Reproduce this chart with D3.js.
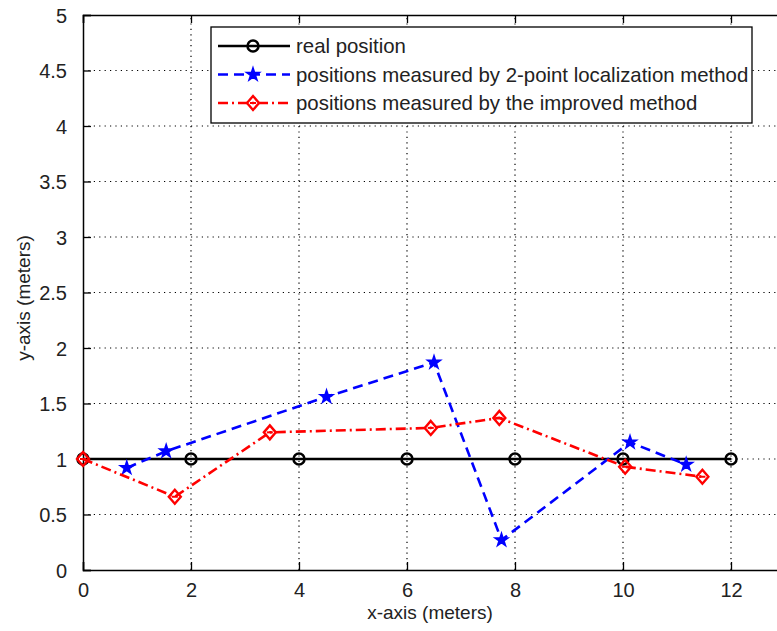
<!DOCTYPE html>
<html>
<head>
<meta charset="utf-8">
<script src="https://cdn.jsdelivr.net/npm/d3@7"></script>
<style>
  body { margin: 0; background: #fff; }
  text { font-family: "Liberation Sans", Arial, sans-serif; fill: #222; }
</style>
</head>
<body>
<div id="chart"></div>
<script>
// data
const realX = [0, 2, 4, 6, 8, 10, 12];
const realY = [1, 1, 1, 1, 1, 1, 1];
const twoPointX = [0.81, 1.54, 4.51, 6.5, 7.75, 10.13, 11.17];
const twoPointY = [0.92, 1.07, 1.56, 1.87, 0.27, 1.15, 0.95];
const improvedX = [0, 1.7, 3.46, 6.44, 7.71, 10.04, 11.47];
const improvedY = [1.0, 0.66, 1.24, 1.28, 1.37, 0.93, 0.84];
const xTicks = [0, 2, 4, 6, 8, 10, 12];
const yTicks = [0, 0.5, 1, 1.5, 2, 2.5, 3, 3.5, 4, 4.5, 5];
const legendLabels = ["real position", "positions measured by 2-point localization method", "positions measured by the improved method"];

function main() {
    const width = 777, height = 631;
    const margin = {top: 15, left: 83, bottom: 61};

    const svg = d3.select("#chart").append("svg")
        .attr("width", width)
        .attr("height", height);

    const xScale = d3.scaleLinear().domain([0, 13]).range([margin.left, margin.left + 13 * 54]);
    const yScale = d3.scaleLinear().domain([0, 5]).range([height - margin.bottom, margin.top]);
    const x0 = xScale(0), y0 = yScale(0), yTop = yScale(5), xRight = xScale(13);

    // dotted grid
    svg.append("g").selectAll("line")
        .data(xTicks.slice(1))
        .enter().append("line")
        .attr("x1", d => xScale(d)).attr("x2", d => xScale(d))
        .attr("y1", y0).attr("y2", yTop)
        .attr("stroke", "#000").attr("stroke-width", 1.2)
        .attr("stroke-dasharray", "1.2,4.2");
    svg.append("g").selectAll("line")
        .data(yTicks.slice(1, -1))
        .enter().append("line")
        .attr("x1", x0).attr("x2", xRight)
        .attr("y1", d => yScale(d)).attr("y2", d => yScale(d))
        .attr("stroke", "#000").attr("stroke-width", 1.2)
        .attr("stroke-dasharray", "1.2,4.2");

    // axes (ticks pointing inward like matlab)
    const xAxis = svg.append("g")
        .attr("transform", `translate(0, ${y0})`)
        .call(d3.axisBottom(xScale).tickValues(xTicks).tickSize(-8).tickPadding(13).tickFormat(d3.format("d")));
    const xAxisTop = svg.append("g")
        .attr("transform", `translate(0, ${yTop})`)
        .call(d3.axisTop(xScale).tickValues(xTicks).tickSize(-8).tickFormat(""));
    const yAxis = svg.append("g")
        .attr("transform", `translate(${x0}, 0)`)
        .call(d3.axisLeft(yScale).tickValues(yTicks).tickSize(-8).tickPadding(16).tickFormat(d3.format("")));
    [xAxis, xAxisTop, yAxis].forEach(function(g) {
        g.select(".domain").attr("stroke", "#000").attr("stroke-width", 1.5);
        g.selectAll(".tick line").attr("stroke", "#000").attr("stroke-width", 1.3);
        g.selectAll(".tick text").style("font-size", "20px").attr("fill", "#333");
    });
    yAxis.selectAll(".tick text").attr("dy", "0.36em");

    svg.append("text")
        .attr("x", 430).attr("y", 619)
        .attr("text-anchor", "middle")
        .style("font-size", "19px")
        .attr("fill", "#333")
        .text("x-axis (meters)");
    svg.append("text")
        .attr("transform", "translate(30, 298) rotate(-90)")
        .attr("text-anchor", "middle")
        .style("font-size", "19px")
        .attr("fill", "#333")
        .text("y-axis (meters)");

    const line = d3.line().x(d => xScale(d[0])).y(d => yScale(d[1]));
    const zip = (xs, ys) => xs.map((v, i) => [v, ys[i]]);

    const series = [
        {pts: zip(realX, realY), color: "#000", dash: null, marker: "circle"},
        {pts: zip(twoPointX, twoPointY), color: "#0000ff", dash: "10,6", marker: "star"},
        {pts: zip(improvedX, improvedY), color: "#ff0000", dash: "10,4,2,4", marker: "diamond"}
    ];

    function drawMarker(g, kind, color) {
        if (kind == "circle") {
            g.append("circle").attr("r", 5.5).attr("fill", "none")
                .attr("stroke", color).attr("stroke-width", 2.5);
        } else if (kind == "star") {
            g.append("path").attr("d", d3.symbol(d3.symbolStar, 45)())
                .attr("fill", color).attr("stroke", color).attr("stroke-width", 1.8);
        } else {
            g.append("path").attr("d", "M0,-7L6,0L0,7L-6,0Z")
                .attr("fill", "none").attr("stroke", color).attr("stroke-width", 2.4);
            g.append("line").attr("x1", -3).attr("x2", 3).attr("stroke", color).attr("stroke-width", 2);
        }
    }

    series.forEach(function(s) {
        svg.append("path")
            .datum(s.pts)
            .attr("d", line)
            .attr("fill", "none")
            .attr("stroke", s.color)
            .attr("stroke-width", 2.6)
            .attr("stroke-dasharray", s.dash);
        s.pts.forEach(function(p) {
            const g = svg.append("g").attr("transform", `translate(${xScale(p[0])}, ${yScale(p[1])})`);
            drawMarker(g, s.marker, s.color);
        });
    });

    // legend
    const legend = svg.append("g");
    legend.append("rect")
        .attr("x", 211).attr("y", 27).attr("width", 541).attr("height", 96)
        .attr("fill", "#fff").attr("stroke", "#000").attr("stroke-width", 1.3);
    const rowY = [46, 74.5, 103];
    series.forEach(function(s, i) {
        legend.append("line")
            .attr("x1", 218).attr("x2", 290)
            .attr("y1", rowY[i]).attr("y2", rowY[i])
            .attr("stroke", s.color).attr("stroke-width", 2.6)
            .attr("stroke-dasharray", s.dash);
        drawMarker(legend.append("g").attr("transform", `translate(253, ${rowY[i]})`), s.marker, s.color);
        legend.append("text")
            .attr("x", 296).attr("y", rowY[i])
            .attr("dy", "0.35em")
            .style("font-size", "20.4px")
            .attr("fill", "#333")
            .text(legendLabels[i]);
    });
}

main();
</script>
</body>
</html>
